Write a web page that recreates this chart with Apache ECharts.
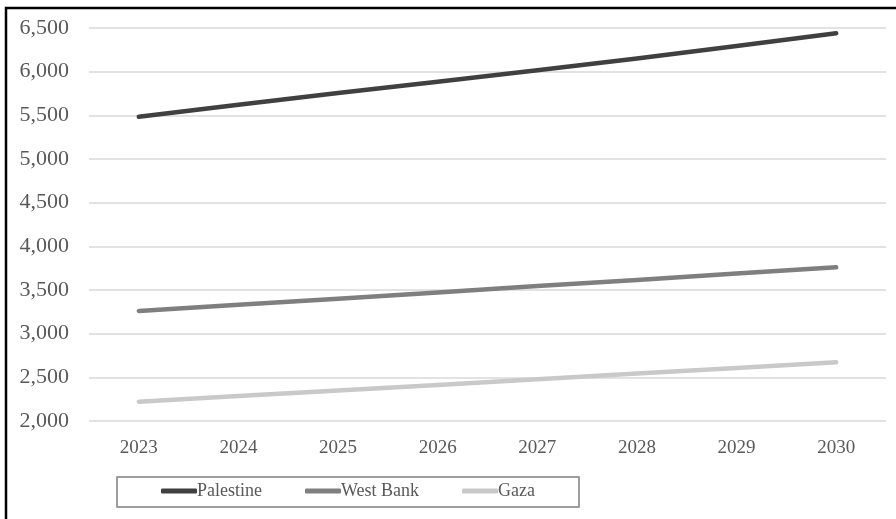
<!DOCTYPE html>
<html>
<head>
<meta charset="utf-8">
<script src="https://cdn.jsdelivr.net/npm/echarts@6/dist/echarts.min.js"></script>
<style>
  html, body { margin: 0; padding: 0; background: #ffffff; }
  #chart { width: 896px; height: 519px; }
</style>
</head>
<body>
<div id="chart"></div>
<script>
// Population projections (thousands), 2023–2030
const years = ['2023', '2024', '2025', '2026', '2027', '2028', '2029', '2030'];
const palestine = [5483, 5620, 5755, 5885, 6015, 6150, 6293, 6440];
const westBank = [3260, 3330, 3400, 3470, 3545, 3615, 3690, 3760];
const gaza = [2221, 2285, 2349, 2413, 2478, 2543, 2608, 2672];
const seriesNames = ['Palestine', 'West Bank', 'Gaza'];
const seriesColors = ['#404040', '#7f7f7f', '#c9c9c9'];

const serif = '"Liberation Serif", "Times New Roman", serif';
const chart = echarts.init(document.getElementById('chart'), null, { renderer: 'canvas' });

function lineSeries(name, data, color) {
  return {
    name: name,
    type: 'line',
    data: data,
    showSymbol: false,
    symbol: 'none',
    smooth: false,
    lineStyle: { color: color, width: 4.5, cap: 'round', join: 'round' },
    itemStyle: { color: color },
    emphasis: { disabled: true }
  };
}

chart.setOption({
  animation: false,
  backgroundColor: '#ffffff',
  grid: { left: 89, right: 10, top: 28, bottom: 98, containLabel: false },
  xAxis: {
    type: 'category',
    data: years,
    boundaryGap: true,
    axisLine: { show: false },
    axisTick: { show: false },
    axisLabel: { color: '#595959', fontFamily: serif, fontSize: 19, margin: 18 }
  },
  yAxis: {
    type: 'value',
    min: 2000,
    max: 6500,
    interval: 500,
    axisLine: { show: false },
    axisTick: { show: false },
    axisLabel: {
      color: '#595959', fontFamily: serif, fontSize: 22, margin: 20,
      formatter: v => v.toLocaleString('en-US')
    },
    splitLine: { lineStyle: { color: '#d9d9d9', width: 1.5 } }
  },
  legend: {
    data: seriesNames,
    left: 161,
    top: 482,
    padding: 0,
    itemGap: 43,
    itemWidth: 36,
    itemHeight: 5,
    icon: 'roundRect',
    textStyle: { color: '#595959', fontFamily: serif, fontSize: 18, padding: [0, 0, 0, -5] }
  },
  graphic: [
    {
      type: 'rect',
      shape: { x: 6, y: 8, width: 1000, height: 1000 },
      style: { fill: 'none', stroke: '#000000', lineWidth: 2.5 },
      silent: true
    },
    {
      type: 'rect',
      shape: { x: 117, y: 477, width: 462, height: 30 },
      style: { fill: 'none', stroke: '#7f7f7f', lineWidth: 1.5 },
      silent: true,
      z: -1
    }
  ],
  series: [
    lineSeries(seriesNames[0], palestine, seriesColors[0]),
    lineSeries(seriesNames[1], westBank, seriesColors[1]),
    lineSeries(seriesNames[2], gaza, seriesColors[2])
  ]
});
</script>
</body>
</html>
